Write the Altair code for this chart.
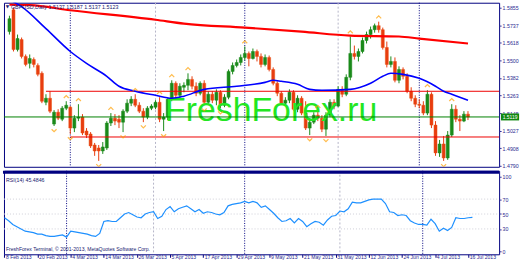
import altair as alt
import pandas as pd

# ---------------- texts ----------------
SYMBOL_TITLE = "GBPUSD,Daily  1.5137 1.5187 1.5137 1.5123"
WATERMARK = "FreshForex.ru"
RSI_LABEL = "RSI(14) 45.4846"
FOOTER = "FreshForex Terminal, \u00a9 2001-2013, MetaQuotes Software Corp."

# ---------------- axes ----------------
X_TICK_LABELS = ["8 Feb 2013", "20 Feb 2013", "4 Mar 2013", "14 Mar 2013", "26 Mar 2013",
                 "5 Apr 2013", "17 Apr 2013", "29 Apr 2013", "9 May 2013", "21 May 2013",
                 "31 May 2013", "12 Jun 2013", "24 Jun 2013", "4 Jul 2013", "16 Jul 2013"]
X_TICK_STEP = 8
PRICE_TICKS = [1.5855, 1.5737, 1.5618, 1.5500, 1.5382, 1.5263, 1.5145, 1.5027, 1.4908, 1.4790]
RSI_TICKS = [0, 30, 50, 70, 100]
RSI_GRID = [30, 50, 70]

# ---------------- daily candles (bar index 0 = 8 Feb 2013) ----------------
OPEN = [1.5694, 1.5841, 1.5573, 1.5640, 1.5527, 1.5480, 1.5506, 1.5466, 1.5413, 1.5218,
        1.5245, 1.5071, 1.5151, 1.5104, 1.5178, 1.5185, 1.5044, 1.5111, 1.5118, 1.5024,
        1.5004, 1.4930, 1.4910, 1.4890, 1.4910, 1.5078, 1.5111, 1.5104, 1.5084, 1.5158,
        1.5212, 1.5238, 1.5198, 1.5158, 1.5118, 1.5178, 1.5185, 1.5218, 1.5104, 1.5118,
        1.5238, 1.5346, 1.5265, 1.5319, 1.5332, 1.5372, 1.5326, 1.5279, 1.5346, 1.5218,
        1.5272, 1.5232, 1.5285, 1.5198, 1.5252, 1.5426, 1.5466, 1.5486, 1.5520, 1.5547,
        1.5513, 1.5560, 1.5527, 1.5473, 1.5520, 1.5439, 1.5346, 1.5279, 1.5212, 1.5232,
        1.5285, 1.5171, 1.5245, 1.5145, 1.5044, 1.5084, 1.5131, 1.5111, 1.5037, 1.5131,
        1.5218, 1.5192, 1.5305, 1.5272, 1.5386, 1.5547, 1.5527, 1.5560, 1.5634, 1.5674,
        1.5707, 1.5734, 1.5707, 1.5587, 1.5473, 1.5493, 1.5366, 1.5439, 1.5393, 1.5292,
        1.5245, 1.5205, 1.5198, 1.5145, 1.5272, 1.5064, 1.4877, 1.4937, 1.4843, 1.4997,
        1.5171, 1.5104, 1.5091, 1.5138]
HIGH = [1.5801, 1.5855, 1.5674, 1.5654, 1.5540, 1.5540, 1.5520, 1.5480, 1.5426, 1.5272,
        1.5292, 1.5165, 1.5171, 1.5192, 1.5225, 1.5192, 1.5131, 1.5205, 1.5138, 1.5044,
        1.5017, 1.4944, 1.4930, 1.4950, 1.5091, 1.5145, 1.5138, 1.5131, 1.5171, 1.5238,
        1.5259, 1.5272, 1.5218, 1.5178, 1.5192, 1.5205, 1.5232, 1.5252, 1.5145, 1.5245,
        1.5366, 1.5359, 1.5346, 1.5352, 1.5413, 1.5393, 1.5352, 1.5359, 1.5366, 1.5292,
        1.5292, 1.5305, 1.5299, 1.5272, 1.5439, 1.5486, 1.5506, 1.5540, 1.5594, 1.5560,
        1.5580, 1.5573, 1.5547, 1.5540, 1.5533, 1.5453, 1.5359, 1.5292, 1.5252, 1.5305,
        1.5299, 1.5265, 1.5259, 1.5225, 1.5111, 1.5151, 1.5158, 1.5131, 1.5151, 1.5238,
        1.5238, 1.5326, 1.5326, 1.5406, 1.5661, 1.5600, 1.5580, 1.5654, 1.5694, 1.5728,
        1.5748, 1.5761, 1.5721, 1.5627, 1.5527, 1.5520, 1.5460, 1.5453, 1.5413, 1.5319,
        1.5265, 1.5238, 1.5225, 1.5299, 1.5285, 1.5091, 1.4964, 1.4991, 1.5024, 1.5205,
        1.5198, 1.5131, 1.5158, 1.5158]
LOW = [1.5674, 1.5560, 1.5560, 1.5513, 1.5460, 1.5446, 1.5453, 1.5393, 1.5212, 1.5198,
       1.5145, 1.5058, 1.5098, 1.5091, 1.5165, 1.5004, 1.5017, 1.5091, 1.4997, 1.4977,
       1.4910, 1.4857, 1.4823, 1.4870, 1.4897, 1.5058, 1.5064, 1.5044, 1.5017, 1.5145,
       1.5192, 1.5185, 1.5145, 1.5084, 1.5104, 1.5165, 1.5171, 1.5084, 1.5024, 1.5098,
       1.5225, 1.5245, 1.5245, 1.5285, 1.5299, 1.5305, 1.5259, 1.5265, 1.5198, 1.5205,
       1.5212, 1.5198, 1.5178, 1.5185, 1.5238, 1.5406, 1.5453, 1.5466, 1.5500, 1.5460,
       1.5506, 1.5493, 1.5453, 1.5460, 1.5426, 1.5332, 1.5259, 1.5198, 1.5198, 1.5212,
       1.5158, 1.5151, 1.5131, 1.5031, 1.4997, 1.5071, 1.5091, 1.5017, 1.4991, 1.5118,
       1.5171, 1.5185, 1.5252, 1.5259, 1.5366, 1.5506, 1.5493, 1.5547, 1.5614, 1.5647,
       1.5687, 1.5687, 1.5573, 1.5453, 1.5453, 1.5352, 1.5346, 1.5372, 1.5279, 1.5225,
       1.5185, 1.5178, 1.5131, 1.5131, 1.5044, 1.4857, 1.4850, 1.4823, 1.4830, 1.4984,
       1.5084, 1.5024, 1.5084, 1.5098]
CLOSE = [1.5781, 1.5573, 1.5647, 1.5527, 1.5473, 1.5513, 1.5473, 1.5406, 1.5225, 1.5245,
         1.5158, 1.5151, 1.5111, 1.5178, 1.5198, 1.5044, 1.5111, 1.5118, 1.5011, 1.4997,
         1.4924, 1.4890, 1.4890, 1.4917, 1.5078, 1.5111, 1.5091, 1.5084, 1.5158, 1.5212,
         1.5238, 1.5198, 1.5158, 1.5118, 1.5178, 1.5192, 1.5218, 1.5104, 1.5118, 1.5238,
         1.5346, 1.5265, 1.5326, 1.5332, 1.5372, 1.5326, 1.5279, 1.5346, 1.5218, 1.5272,
         1.5232, 1.5285, 1.5198, 1.5252, 1.5426, 1.5466, 1.5486, 1.5520, 1.5547, 1.5513,
         1.5560, 1.5527, 1.5473, 1.5520, 1.5439, 1.5346, 1.5279, 1.5212, 1.5232, 1.5285,
         1.5171, 1.5245, 1.5145, 1.5044, 1.5084, 1.5131, 1.5111, 1.5037, 1.5131, 1.5218,
         1.5192, 1.5305, 1.5272, 1.5386, 1.5547, 1.5527, 1.5560, 1.5634, 1.5674, 1.5707,
         1.5734, 1.5707, 1.5587, 1.5473, 1.5493, 1.5366, 1.5439, 1.5393, 1.5292, 1.5245,
         1.5205, 1.5198, 1.5145, 1.5272, 1.5064, 1.4877, 1.4937, 1.4843, 1.4997, 1.5171,
         1.5104, 1.5091, 1.5138, 1.5119]

RSI = [45, 41, 36, 33, 30, 27, 26, 25, 23, 23,
       21, 20, 20, 21, 22, 19, 27, 26, 25, 24,
       23, 21, 20, 24, 40, 41, 40, 40, 45, 50,
       52, 49, 46, 45, 50, 52, 53, 44, 47, 56,
       60, 53, 57, 59, 61, 57, 53, 56, 51, 53,
       52, 50, 49, 52, 61, 63, 64, 65, 67, 65,
       67, 65, 59, 61, 56, 51, 45, 40, 41, 44,
       38, 44, 40, 33, 37, 40, 39, 35, 42, 47,
       48, 54, 53, 57, 66, 65, 65, 67, 69, 70,
       70, 70, 64, 53, 52, 48, 49, 48, 41, 38,
       36, 36, 35, 43, 37, 27, 31, 28, 32, 45,
       44, 44, 45, 45.48]

# moving averages (read at selected bars)
BLUE_IDX = [0, 3, 9, 15, 19, 24, 27, 31, 36, 40, 43, 48, 56, 63, 65, 67, 71, 74, 77, 84,
            89, 92, 94, 97, 101, 105, 107, 109, 113]
BLUE_VAL = [1.5910, 1.5862, 1.5714, 1.5560, 1.5480, 1.5393, 1.5326, 1.5292, 1.5265, 1.5245,
            1.5259, 1.5305, 1.5326, 1.5352, 1.5366, 1.5359, 1.5339, 1.5305, 1.5299, 1.5305,
            1.5346, 1.5393, 1.5413, 1.5406, 1.5379, 1.5326, 1.5292, 1.5272, 1.5232]
RED_IDX = [0, 5, 15, 36, 43, 58, 72, 84, 96, 101, 113]
RED_VAL = [1.5875, 1.5872, 1.5838, 1.5774, 1.5748, 1.5721, 1.5694, 1.5667, 1.5661, 1.5647, 1.5614]

LEVELS = [1.5292, 1.4984]
LEVEL_START = [9, 15]
BID = 1.5119
SEP_DARK = [15, 58, 101]
SEP_LIGHT = [36, 81]
FRACTAL_UP = [14, 17, 25, 31, 37, 40, 44, 58, 76, 84, 91, 103, 109]
FRACTAL_DOWN = [11, 15, 22, 28, 33, 38, 48, 52, 74, 78, 107]

# ---------------- layout constants ----------------
W = 498
H_MAIN = 165
H_RSI = 84
XDOM = [-0.12, 119.448]
PDOM = [1.47833, 1.58885]
RDOM = [-4, 108]
NAVY = "#000080"
FONT = "Liberation Sans"

n = len(CLOSE)
df = pd.DataFrame({"i": list(range(n)), "open": OPEN, "high": HIGH, "low": LOW, "close": CLOSE})
df["dir"] = ["up" if c >= o else "down" for o, c in zip(OPEN, CLOSE)]

x_scale = alt.Scale(domain=XDOM, nice=False, zero=False)
y_scale = alt.Scale(domain=PDOM, nice=False, zero=False)
r_scale = alt.Scale(domain=RDOM, nice=False, zero=False)

AXY = alt.Axis(orient="right", values=PRICE_TICKS, format=".4f", title="", grid=False,
               domain=False, tickSize=2, tickColor="#3030a0", labelPadding=1,
               labelFontSize=5.3, labelColor="#2a2a90", labelFont=FONT)
xm = alt.X("i:Q", scale=x_scale, axis=None)

def ym(field):
    return alt.Y(field, scale=y_scale, axis=AXY)

wick_col = alt.Color("dir:N", scale=alt.Scale(domain=["up", "down"], range=["#1a8a1a", "#e83c10"]), legend=None)
body_col = alt.Color("dir:N", scale=alt.Scale(domain=["up", "down"], range=["#30b830", "#ff8c1a"]), legend=None)
body_stroke = alt.Stroke("dir:N", scale=alt.Scale(domain=["up", "down"], range=["#1a8a1a", "#e85010"]), legend=None)

base = alt.Chart(df)
wicks = base.mark_rule(strokeWidth=1, clip=True).encode(x=xm, y=ym("low:Q"), y2="high:Q", color=wick_col)
bodies = base.mark_bar(size=3, clip=True, strokeWidth=0.5).encode(
    x=xm, y=ym("open:Q"), y2="close:Q", color=body_col, stroke=body_stroke)

sep_dark_df = pd.DataFrame({"i": SEP_DARK})
sep_light_df = pd.DataFrame({"i": SEP_LIGHT})
sep_dark_m = alt.Chart(sep_dark_df).mark_rule(color=NAVY, strokeWidth=1, strokeDash=[1, 1.5]).encode(x=xm)
sep_light_m = alt.Chart(sep_light_df).mark_rule(color="#b4b4c8", strokeWidth=1, strokeDash=[2, 2]).encode(x=xm)

wm = alt.Chart(pd.DataFrame({"t": [WATERMARK]})).mark_text(
    font=FONT, fontSize=34, color="#22e622", align="left", baseline="alphabetic"
).encode(text="t:N", x=alt.value(162), y=alt.value(119))

lev_df = pd.DataFrame({"start": LEVEL_START, "level": LEVELS})
levels = alt.Chart(lev_df).mark_rule(color="#ee0000", strokeWidth=1).encode(
    x=alt.X("start:Q", scale=x_scale, axis=None), x2=alt.value(W), y=ym("level:Q"))
bid_df = pd.DataFrame({"bid": [BID], "lab": [f"{BID:.4f}"]})
bid_line = alt.Chart(bid_df).mark_rule(color="#008000", strokeWidth=1).encode(
    x=alt.value(0), x2=alt.value(W), y=ym("bid:Q"))

blue = alt.Chart(pd.DataFrame({"i": BLUE_IDX, "v": BLUE_VAL})).mark_line(
    color="#0000ff", strokeWidth=1.6, interpolate="monotone", clip=True).encode(x=xm, y=ym("v:Q"))
red = alt.Chart(pd.DataFrame({"i": RED_IDX, "v": RED_VAL})).mark_line(
    color="#ff0000", strokeWidth=2.2, interpolate="monotone", clip=True).encode(x=xm, y=ym("v:Q"))

up_df = pd.DataFrame({"i": FRACTAL_UP, "p": [HIGH[k] for k in FRACTAL_UP]})
dn_df = pd.DataFrame({"i": FRACTAL_DOWN, "p": [LOW[k] for k in FRACTAL_DOWN]})
fr_up = alt.Chart(up_df).mark_point(shape="M-1,-1.3L0,-2.3L1,-1.3", filled=False, size=25,
                                    stroke="#ffa000", strokeWidth=1.2, clip=True).encode(x=xm, y=ym("p:Q"))
fr_dn = alt.Chart(dn_df).mark_point(shape="M-1,1.3L0,2.3L1,1.3", filled=False, size=25,
                                    stroke="#ffa000", strokeWidth=1.2, clip=True).encode(x=xm, y=ym("p:Q"))

title_df = pd.DataFrame({"t": [SYMBOL_TITLE]})
title_m = alt.Chart(title_df).mark_text(font=FONT, fontSize=5.4, color="#202070", align="left",
                                        baseline="middle").encode(text="t:N", x=alt.value(7), y=alt.value(4))
tri_m = alt.Chart(pd.DataFrame({"t": ["\u25bc"]})).mark_text(font="DejaVu Sans", fontSize=4.5, color="#202070",
                                                            align="center", baseline="middle").encode(
    text="t:N", x=alt.value(3.5), y=alt.value(4))

bid_box = alt.Chart(bid_df).mark_point(shape="M-1.3,-0.5H1.3V0.5H-1.3Z", filled=True, size=196,
                                       color="#118811", opacity=1).encode(x=alt.value(509), y=ym("bid:Q"))
bid_txt = alt.Chart(bid_df).mark_text(font=FONT, fontSize=5, color="white", align="center",
                                      baseline="middle").encode(text="lab:N", x=alt.value(509), y=ym("bid:Q"))

main = alt.layer(sep_light_m, sep_dark_m, wicks, bodies, wm, levels, bid_line, red, blue,
                 fr_up, fr_dn, title_m, tri_m, bid_box, bid_txt).properties(width=W, height=H_MAIN)

# ---------------- RSI panel ----------------
tick_values = [k * X_TICK_STEP for k in range(len(X_TICK_LABELS))]
label_arr = "[" + ",".join("'" + s + "'" for s in X_TICK_LABELS) + "]"
AXX = alt.Axis(values=tick_values, labelExpr=label_arr + f"[round(datum.value/{X_TICK_STEP})]",
               title="", grid=False, domain=False, tickSize=3, tickColor=NAVY, labelAlign="left",
               labelPadding=-3, labelFontSize=5.1, labelColor="#2a2a90", labelFont=FONT,
               labelOverlap=False, labelFlush=False, labelBound=False, labelOffset=1)
AXR = alt.Axis(orient="right", values=RSI_TICKS, format="d", title="", grid=False, domain=False,
               tickSize=2, tickColor="#3030a0", labelPadding=1, labelFontSize=5.3,
               labelColor="#2a2a90", labelFont=FONT)
xr = alt.X("i:Q", scale=x_scale, axis=AXX)

rsi_df = pd.DataFrame({"i": list(range(n)), "rsi": RSI})
rsi_line = alt.Chart(rsi_df).mark_line(color="#1e90ff", strokeWidth=1.2, clip=True).encode(
    x=xr, y=alt.Y("rsi:Q", scale=r_scale, axis=AXR))
grid_df = pd.DataFrame({"g": RSI_GRID})
rsi_grid = alt.Chart(grid_df).mark_rule(color="#cfcfd8", strokeWidth=1, strokeDash=[1, 2]).encode(
    x=alt.value(0), x2=alt.value(W), y=alt.Y("g:Q", scale=r_scale, axis=AXR))
sep_dark_r = alt.Chart(sep_dark_df).mark_rule(color=NAVY, strokeWidth=1, strokeDash=[1, 1.5]).encode(x=xr)
sep_light_r = alt.Chart(sep_light_df).mark_rule(color="#b4b4c8", strokeWidth=1, strokeDash=[2, 2]).encode(x=xr)
thick = alt.Chart(pd.DataFrame({"a": [0]})).mark_rule(color=NAVY, strokeWidth=3).encode(
    x=alt.value(-1), x2=alt.value(W), y=alt.value(1.5))
rsi_lab = alt.Chart(pd.DataFrame({"t": [RSI_LABEL]})).mark_text(
    font=FONT, fontSize=5.3, color="#202070", align="left", baseline="middle").encode(
    text="t:N", x=alt.value(2), y=alt.value(9))
foot = alt.Chart(pd.DataFrame({"t": [FOOTER]})).mark_text(
    font=FONT, fontSize=5.1, color="#202070", align="left", baseline="middle").encode(
    text="t:N", x=alt.value(2), y=alt.value(79))

rsi = alt.layer(rsi_grid, sep_light_r, sep_dark_r, rsi_line, thick, rsi_lab, foot).properties(
    width=W, height=H_RSI)

chart = alt.vconcat(main, rsi, spacing=0).properties(
    padding={"left": 1, "top": 1, "right": 0, "bottom": 0}, background="white"
).configure_view(stroke=NAVY, strokeWidth=1).configure_concat(spacing=0)

chart.save("out.html", embed_options={"renderer": "svg", "actions": False})
